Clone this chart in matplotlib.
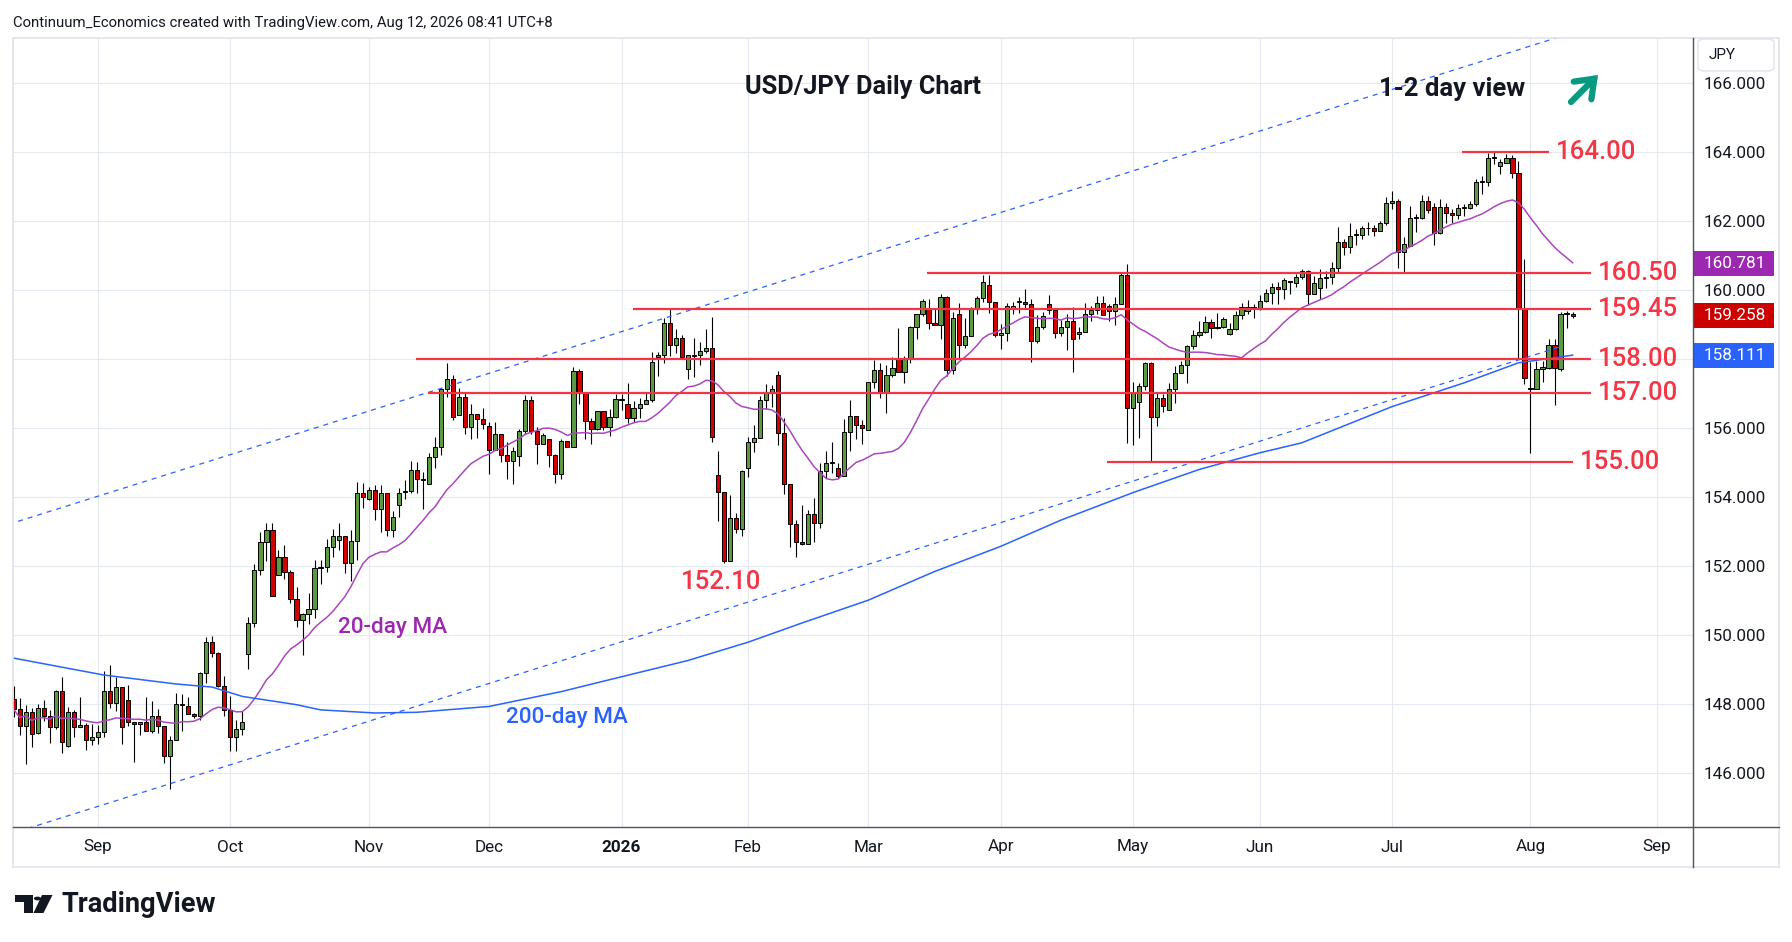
import numpy as np
import pandas as pd
import matplotlib
matplotlib.use("Agg")
import matplotlib.pyplot as plt
import matplotlib.transforms as mtransforms
from matplotlib.patches import Rectangle, FancyBboxPatch, Polygon, Circle
from matplotlib.lines import Line2D

W, H, DPI = 1792, 942, 100

# ---------------- data (USD/JPY daily candles, Aug 12 2025 - Aug 12 2026) ----------------
holidays = ["2025-12-25", "2026-01-01"]

opens = [
    148.15, 147.85, 147.37, 147.76, 147.15, 147.87, 147.64, 147.32, 148.38, 146.78,
    147.76, 147.32, 147.38, 146.95, 147.03, 147.18, 148.38, 148.02, 148.48, 148.12,
    147.47, 147.41, 147.47, 147.21, 147.64, 147.36, 146.48, 146.95, 147.99, 147.93,
    147.70, 147.64, 148.89, 149.79, 149.48, 148.53, 147.83, 147.04, 147.27, 149.45,
    150.35, 151.89, 152.70, 153.04, 151.74, 152.26, 151.83, 151.04, 150.44, 150.61,
    150.75, 151.94, 151.97, 152.55, 152.74, 152.86, 152.09, 152.72, 154.12, 153.94,
    154.20, 153.65, 154.12, 153.05, 153.78, 154.14, 154.16, 154.78, 154.51, 154.37,
    155.15, 155.44, 157.12, 157.41, 156.37, 156.89, 156.02, 156.42, 156.25, 156.05,
    155.37, 155.84, 155.21, 155.03, 155.18, 155.90, 156.80, 155.90, 155.55, 155.67,
    155.21, 154.68, 155.61, 155.44, 157.66, 157.00, 156.19, 155.96, 156.48, 156.02,
    156.31, 156.83, 156.69, 156.30, 156.58, 156.71, 156.80, 158.05, 158.11, 159.03,
    158.40, 158.60, 157.72, 158.11, 158.11, 158.22, 158.31, 154.64, 154.14, 152.15,
    153.38, 153.06, 154.83, 155.58, 155.70, 156.81, 157.00, 157.53, 155.85, 154.38,
    153.22, 152.69, 152.63, 153.50, 153.24, 154.74, 154.98, 154.83, 154.62, 155.87,
    156.35, 156.08, 155.93, 157.32, 157.67, 157.02, 157.53, 158.01, 157.61, 158.01,
    158.92, 159.29, 159.49, 159.03, 158.98, 159.79, 157.67, 159.29, 158.40, 158.66,
    159.44, 159.76, 160.14, 159.64, 158.69, 158.74, 159.49, 159.66, 159.64, 159.59,
    158.51, 158.93, 159.59, 159.42, 158.75, 158.93, 159.11, 158.72, 158.78, 159.30,
    159.43, 159.62, 159.54, 159.38, 159.59, 160.44, 156.58, 156.75, 157.22, 157.87,
    156.32, 156.87, 156.53, 157.13, 157.60, 157.84, 158.37, 158.70, 158.78, 159.07,
    158.90, 158.93, 158.73, 158.88, 159.27, 159.40, 159.50, 159.46, 159.68, 159.92,
    160.08, 160.03, 160.23, 160.20, 160.38, 160.55, 159.88, 160.06, 160.35, 160.38,
    160.64, 161.39, 161.25, 161.59, 161.59, 161.81, 161.81, 161.72, 161.94, 162.53,
    162.59, 161.10, 161.27, 162.09, 162.09, 162.57, 162.42, 161.66, 162.42, 162.24,
    162.16, 162.39, 162.39, 162.48, 163.13, 163.13, 163.84, 163.59, 163.69, 163.83,
    163.38, 159.47, 157.14, 157.14, 157.70, 157.75, 158.40, 157.70, 159.30, 159.30,
]
highs = [
    148.52, 148.16, 147.97, 147.87, 148.00, 148.12, 147.83, 148.41, 148.77, 147.92,
    147.83, 148.19, 147.46, 147.42, 147.40, 148.96, 149.13, 148.77, 148.48, 148.56,
    147.47, 147.49, 148.19, 148.10, 147.86, 147.36, 147.07, 148.31, 148.29, 148.21,
    147.75, 148.94, 149.95, 149.97, 149.52, 148.81, 148.24, 147.55, 147.81, 150.52,
    152.06, 152.99, 153.26, 153.26, 152.47, 152.62, 151.89, 151.40, 150.64, 151.22,
    152.18, 152.16, 152.79, 153.07, 153.26, 152.86, 153.05, 154.43, 154.40, 154.29,
    154.36, 154.36, 154.12, 153.58, 154.26, 154.48, 155.05, 155.02, 154.73, 155.28,
    155.75, 157.14, 157.87, 157.54, 157.17, 157.04, 156.71, 156.42, 156.57, 156.16,
    156.17, 155.84, 155.60, 155.46, 155.97, 156.95, 156.93, 156.02, 155.86, 155.67,
    155.24, 155.67, 155.61, 157.76, 157.70, 157.00, 156.28, 156.48, 156.48, 156.54,
    156.98, 156.98, 157.29, 156.78, 156.86, 157.05, 158.19, 158.20, 159.19, 159.45,
    158.86, 158.70, 158.11, 158.60, 158.50, 158.86, 159.23, 155.32, 154.14, 154.06,
    153.53, 154.78, 155.75, 156.09, 156.93, 157.27, 157.26, 157.65, 156.30, 154.38,
    153.33, 153.77, 153.62, 153.96, 154.98, 155.33, 155.60, 154.98, 156.25, 156.81,
    156.35, 156.23, 157.32, 157.97, 157.87, 157.84, 158.07, 158.89, 158.09, 158.96,
    159.29, 159.73, 159.73, 159.47, 159.89, 159.83, 159.35, 159.63, 159.18, 159.50,
    159.83, 160.43, 160.43, 159.64, 159.01, 159.61, 159.66, 159.81, 160.02, 159.74,
    159.28, 159.36, 159.86, 159.42, 159.14, 159.30, 159.51, 158.93, 159.62, 159.53,
    159.84, 159.84, 159.58, 159.80, 160.49, 160.74, 157.33, 157.31, 157.91, 157.91,
    157.02, 156.99, 157.29, 157.79, 157.93, 158.42, 158.85, 159.09, 159.24, 159.16,
    159.33, 159.22, 159.04, 159.40, 159.63, 159.70, 159.60, 159.85, 160.04, 160.20,
    160.23, 160.35, 160.25, 160.45, 160.60, 160.57, 160.41, 160.62, 160.54, 160.81,
    161.83, 161.49, 161.94, 161.78, 161.85, 161.97, 161.87, 161.99, 162.70, 162.86,
    162.65, 161.54, 162.43, 162.21, 162.74, 162.72, 162.51, 162.63, 162.51, 162.36,
    162.48, 162.48, 162.58, 163.21, 163.30, 163.98, 164.00, 163.79, 163.93, 163.90,
    163.74, 160.89, 157.91, 157.94, 157.94, 158.57, 158.57, 159.36, 159.39, 159.36,
]
lows = [
    147.61, 147.10, 146.25, 146.76, 147.12, 147.52, 146.88, 147.29, 146.59, 146.76,
    147.05, 147.32, 146.68, 146.81, 146.83, 147.05, 147.87, 147.80, 146.85, 147.37,
    146.33, 147.11, 147.21, 147.15, 147.15, 146.29, 145.53, 146.95, 147.23, 147.70,
    147.58, 147.54, 148.60, 149.37, 148.48, 147.66, 146.63, 146.63, 147.09, 149.02,
    150.22, 151.75, 152.14, 151.14, 151.74, 151.62, 150.93, 150.22, 149.41, 150.31,
    150.48, 151.49, 151.83, 152.25, 152.47, 151.80, 151.56, 152.18, 153.67, 153.90,
    153.32, 152.99, 152.88, 152.84, 153.42, 153.95, 154.12, 154.11, 153.64, 154.37,
    154.83, 155.23, 156.89, 156.23, 156.37, 155.82, 155.67, 155.72, 155.97, 154.68,
    155.37, 155.02, 154.51, 154.37, 154.91, 155.82, 155.82, 154.95, 155.55, 154.86,
    154.42, 154.53, 155.44, 155.44, 156.71, 155.67, 155.55, 155.93, 155.93, 155.76,
    156.29, 156.52, 156.14, 156.18, 156.30, 156.70, 156.75, 157.51, 157.89, 158.10,
    158.16, 158.05, 157.43, 157.47, 157.83, 158.18, 155.60, 153.31, 152.10, 152.15,
    152.95, 152.87, 154.57, 155.29, 155.70, 156.54, 156.62, 155.51, 154.09, 152.56,
    152.27, 152.61, 152.63, 152.71, 153.09, 154.54, 154.71, 154.54, 154.62, 155.33,
    155.68, 155.54, 155.93, 157.15, 156.86, 156.44, 157.49, 157.61, 157.29, 157.87,
    158.57, 159.26, 158.86, 158.98, 158.57, 157.51, 157.57, 158.00, 158.33, 158.66,
    159.29, 159.66, 159.32, 158.65, 158.28, 158.53, 159.29, 159.32, 159.47, 157.90,
    158.46, 158.87, 159.30, 158.60, 158.66, 158.27, 157.61, 158.57, 158.77, 159.11,
    159.30, 159.28, 159.09, 158.98, 159.59, 155.57, 155.51, 155.70, 157.11, 155.02,
    156.05, 156.46, 156.51, 156.73, 157.58, 157.31, 158.29, 158.63, 158.75, 158.61,
    158.87, 158.90, 158.71, 158.85, 159.15, 159.30, 159.20, 159.41, 159.65, 159.60,
    159.60, 159.75, 159.87, 160.09, 160.33, 159.57, 159.87, 159.75, 160.06, 160.18,
    160.52, 161.02, 161.08, 161.29, 161.49, 161.59, 161.56, 161.70, 161.87, 162.36,
    160.65, 160.50, 161.27, 161.68, 162.05, 162.24, 161.29, 161.61, 161.93, 161.93,
    162.05, 162.14, 162.34, 162.43, 162.77, 163.01, 163.64, 163.35, 163.67, 163.26,
    157.99, 157.27, 155.27, 157.12, 157.33, 157.72, 156.66, 157.65, 158.91, 159.20,
]
closes = [
    147.85, 147.37, 147.76, 147.12, 147.87, 147.64, 147.32, 148.39, 146.89, 147.76,
    147.32, 147.39, 146.95, 147.03, 147.18, 148.38, 148.02, 148.48, 147.34, 147.47,
    147.41, 147.47, 147.21, 147.64, 147.36, 146.48, 146.95, 147.99, 147.96, 147.70,
    147.64, 148.89, 149.79, 149.47, 148.53, 147.83, 147.04, 147.27, 147.47, 150.35,
    151.89, 152.70, 153.04, 151.14, 152.26, 151.83, 151.04, 150.44, 150.61, 150.75,
    151.94, 151.97, 152.55, 152.86, 152.86, 152.09, 152.72, 154.12, 154.00, 154.20,
    153.65, 154.12, 153.05, 153.42, 154.12, 154.16, 154.78, 154.51, 154.50, 155.15,
    155.44, 157.12, 157.41, 156.31, 156.89, 156.02, 156.42, 156.25, 156.12, 155.37,
    155.84, 155.21, 155.03, 155.32, 155.90, 156.80, 155.90, 155.55, 155.79, 155.21,
    154.68, 155.61, 155.44, 157.66, 157.00, 156.19, 155.96, 156.48, 156.02, 156.31,
    156.83, 156.80, 156.30, 156.58, 156.71, 156.80, 157.90, 158.11, 159.03, 158.40,
    158.60, 158.05, 158.11, 158.10, 158.22, 158.32, 155.73, 154.14, 152.15, 153.38,
    153.06, 154.75, 155.58, 155.70, 156.81, 157.00, 157.14, 155.85, 154.38, 153.22,
    152.69, 152.63, 153.50, 153.24, 154.74, 154.98, 155.00, 154.62, 155.87, 156.35,
    156.08, 156.00, 157.32, 157.67, 157.02, 157.53, 157.73, 157.61, 158.01, 158.92,
    159.29, 159.68, 159.03, 158.98, 159.79, 157.67, 159.18, 158.40, 158.66, 159.44,
    159.76, 160.22, 159.64, 158.69, 158.74, 159.55, 159.55, 159.67, 159.58, 158.51,
    158.94, 159.24, 159.42, 158.75, 158.93, 159.11, 158.58, 158.78, 159.30, 159.43,
    159.62, 159.28, 159.38, 159.59, 160.44, 156.58, 157.01, 157.22, 157.87, 156.32,
    156.87, 156.63, 157.13, 157.60, 157.84, 158.37, 158.70, 158.78, 159.07, 158.90,
    158.92, 159.16, 158.88, 159.27, 159.51, 159.50, 159.46, 159.68, 159.92, 160.08,
    160.03, 160.28, 160.24, 160.38, 160.55, 159.88, 160.20, 160.35, 160.38, 160.64,
    161.39, 161.25, 161.56, 161.61, 161.81, 161.79, 161.72, 161.94, 162.52, 162.59,
    161.10, 161.33, 162.09, 162.11, 162.59, 162.32, 161.66, 162.42, 162.24, 162.16,
    162.39, 162.41, 162.48, 163.13, 163.15, 163.84, 163.86, 163.72, 163.83, 163.38,
    159.49, 157.46, 157.17, 157.70, 157.76, 158.40, 157.75, 159.30, 159.32, 159.258,
]

# 200-day MA (bar number, value)
ma200_bar = [0, 15, 27, 33, 38, 47, 51, 60, 67, 79, 91, 101, 112, 122, 131, 142,
             153, 164, 174, 186, 197, 207, 214, 229, 241, 250, 259]
ma200_val = [149.33, 148.84, 148.58, 148.49, 148.22, 147.98, 147.83, 147.74, 147.76,
             147.93, 148.36, 148.79, 149.26, 149.79, 150.35, 151.01, 151.84, 152.57,
             153.33, 154.13, 154.80, 155.28, 155.57, 156.62, 157.31, 157.89, 158.111]

# last 20-day MA value as printed on the price scale
ma20_last = 160.781

# rising channel (two parallel trend lines): bar numbers and values
channel_bar = [-5, 257.6]
channel_low = [143.99, 158.39]
channel_high = [152.98, 167.38]

# horizontal levels
levels = [164.00, 160.50, 159.45, 158.00, 157.00, 155.00]
level_labels = ["164.00", "160.50", "159.45", "158.00", "157.00", "155.00"]
level_start = [240.7, 151.8, 102.9, 66.8, 68.8, 181.7]
level_end = [255.0, 262.0, 262.0, 262.0, 262.0, 259.0]

price_ticks = [146, 148, 150, 152, 154, 156, 158, 160, 162, 164, 166]

# ---------------- style ----------------
GREEN = "#5b9a42"
RED = "#d30000"
LEVEL = "#f23645"
PURPLE = "#9c27b0"
BLUE = "#2962ff"
GRID = "#e5eaf1"
TXT = "#131722"
FONT = "Roboto"

plt.rcParams["font.family"] = [FONT, "DejaVu Sans"]

n = len(closes)
days = pd.bdate_range("2025-08-12", "2026-09-30")
days = days[~days.isin(pd.to_datetime(holidays))]
x = np.arange(n)
o, h, l, c = map(np.array, (opens, highs, lows, closes))
ma20 = pd.Series(c).rolling(20, min_periods=1).mean().values

# month ticks = first bar of each month
months = pd.Series(np.arange(len(days)), index=days)
first = months.groupby([days.year, days.month]).min()
tick_pos, tick_lab = [], []
for (yy, mm), pos in first.items():
    if pos < 10:
        continue
    tick_pos.append(pos)
    tick_lab.append(str(yy) if mm == 1 else pd.Timestamp(yy, mm, 1).strftime("%b"))

fig = plt.figure(figsize=(W / DPI, H / DPI), dpi=DPI)
fig.patch.set_facecolor("white")

def fx(px):
    return px / W

def fy(py):
    return 1 - py / H

L, R, T, B = 13, 1693, 38, 827
ax = fig.add_axes([fx(L), fy(B), (R - L) / W, (B - T) / H])
ax.set_xlim(-0.1, 279.0)
ax.set_ylim(144.435, 167.304)
for s in ax.spines.values():
    s.set_visible(False)

# grid + scales (the 158 label sits under the 200-day MA badge, as on the chart)
badge_vals = [ma20_last, c[-1], ma200_val[-1]]
ax.set_yticks(price_ticks)
ax.set_yticklabels(["" if any(abs(v - b) < 0.5 for b in badge_vals) else f"{v:.3f}"
                    for v in price_ticks])
ax.set_xticks(tick_pos)
ax.set_xticklabels(tick_lab)
for lab in ax.get_xticklabels():
    if lab.get_text().isdigit():
        lab.set_fontweight("bold")
ax.grid(True, color=GRID, lw=0.8, zorder=0)
ax.set_axisbelow(True)
ax.yaxis.tick_right()
ax.tick_params(axis="y", length=0, pad=8, labelsize=12.3, labelcolor=TXT)
ax.tick_params(axis="x", length=0, pad=9, labelsize=12.3, labelcolor=TXT)

# candles
up = c >= o
cols = np.where(up, GREEN, RED)
ax.vlines(x, l, h, color="black", lw=0.8, zorder=3)
body_lo = np.minimum(o, c)
body_h = np.maximum(np.abs(c - o), 0.02)
ax.bar(x, body_h, bottom=body_lo, width=0.7, color=cols, edgecolor="black",
       linewidth=0.7, zorder=4)

# moving averages
ax.plot(x, ma20, color="#ab47bc", lw=1.1, zorder=5)
ax.plot(ma200_bar, ma200_val, color=BLUE, lw=1.1, zorder=5)

# channel
for vals in (channel_low, channel_high):
    ax.plot(channel_bar, vals, color=BLUE, lw=0.9, ls=(0, (4, 4)), zorder=5)

# levels
for lv, lab, x0, x1 in zip(levels, level_labels, level_start, level_end):
    ax.plot([x0, x1], [lv, lv], color=LEVEL, lw=1.6, zorder=6, solid_capstyle="butt")
    ax.text(x1 + 1.2, lv, lab, color=LEVEL, fontsize=18.5, fontweight="medium",
            va="center", ha="left", zorder=7, clip_on=False)

# price badges on axis
blend = mtransforms.blended_transform_factory(ax.transAxes, ax.transData)
badge_w = 81 / (R - L)
badge_h = 25 / 34.5
for val, col in zip(badge_vals, (PURPLE, "#cc0000", BLUE)):
    ax.add_patch(Rectangle((1.0, val - badge_h / 2), badge_w, badge_h, transform=blend,
                           facecolor=col, edgecolor="none", clip_on=False, zorder=8))
    ax.text(1.0 + 11 / (R - L), val, f"{val:.3f}", transform=blend, color="white",
            fontsize=12.3, va="center", ha="left", zorder=9, clip_on=False)

# chart texts
fig.text(fx(863), fy(87), "USD/JPY Daily Chart", fontsize=18.3, fontweight="bold",
         color=TXT, ha="center", va="center")
fig.text(fx(1379), fy(89), "1-2 day view", fontsize=18.5, fontweight="bold",
         color=TXT, ha="left", va="center")
ax.annotate("", xy=(fx(1598), fy(75)), xytext=(fx(1571), fy(102)),
            xycoords="figure fraction", textcoords="figure fraction",
            arrowprops=dict(arrowstyle="->,head_length=0.4,head_width=0.3",
                            mutation_scale=30, lw=4.5, color="#089981",
                            shrinkA=0, shrinkB=0, capstyle="round", joinstyle="miter"))
fig.text(fx(338), fy(628), "20-day MA", fontsize=16.2, fontweight="medium",
         color=PURPLE, ha="left", va="center")
fig.text(fx(567), fy(717), "200-day MA", fontsize=16.2, fontweight="medium",
         color=BLUE, ha="center", va="center")
fig.text(fx(721), fy(582), "152.10", fontsize=18.5, fontweight="medium",
         color=LEVEL, ha="center", va="center")

# frame, separators
fig.add_artist(Rectangle((fx(13), fy(867)), (1779 - 13) / W, (867 - 38) / H,
                         transform=fig.transFigure, fill=False, edgecolor="#e0e3eb",
                         lw=1.2))
fig.add_artist(Line2D([fx(R), fx(R)], [fy(38), fy(867)], color="#50535e", lw=1.0))
fig.add_artist(Line2D([fx(13), fx(1779)], [fy(B), fy(B)], color="#50535e", lw=1.0))

# JPY box
fig.add_artist(FancyBboxPatch((fx(1698), fy(71)), (1774 - 1698) / W, 32 / H,
                              boxstyle="round,pad=0,rounding_size=0.004",
                              transform=fig.transFigure, facecolor="white",
                              edgecolor="#e0e3eb", lw=1.0))
fig.text(fx(1709), fy(55), "JPY", fontsize=11, color=TXT, ha="left", va="center")

# header
fig.text(fx(13), fy(23), "Continuum_Economics created with TradingView.com, Aug 12, 2026 08:41 UTC+8",
         fontsize=10.75, color=TXT, ha="left", va="center")

# TradingView logo
K = "#131722"
fig.add_artist(Polygon([(fx(15), fy(895)), (fx(33), fy(895)), (fx(33), fy(913)),
                        (fx(24), fy(913)), (fx(24), fy(902)), (fx(15), fy(902))],
                       closed=True, transform=fig.transFigure, facecolor=K, edgecolor="none"))
fig.add_artist(Circle((fx(37.5), fy(898.5)), 3.6 / W, transform=fig.transFigure,
                      facecolor=K, edgecolor="none"))
fig.add_artist(Polygon([(fx(42), fy(895)), (fx(52.5), fy(895)), (fx(43.5), fy(913)),
                        (fx(33.5), fy(913))], closed=True, transform=fig.transFigure,
                       facecolor=K, edgecolor="none"))
fig.text(fx(61), fy(904), "TradingView", fontsize=19.6, fontweight="bold",
         color=K, ha="left", va="center")

fig.savefig("out.png", dpi=DPI)
